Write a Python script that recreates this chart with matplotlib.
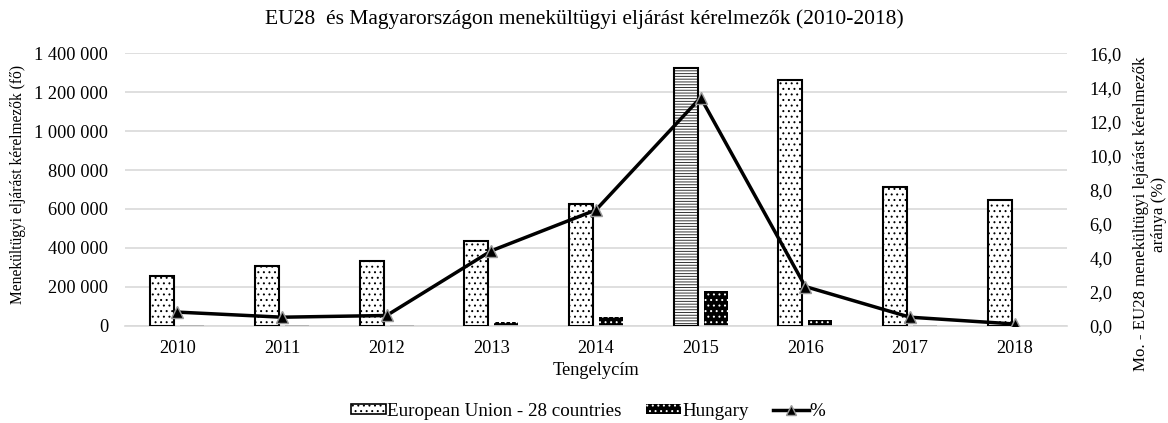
import numpy as np
import matplotlib
matplotlib.use("Agg")
import matplotlib.pyplot as plt
from matplotlib.patches import Patch
from matplotlib.lines import Line2D
from matplotlib.ticker import FuncFormatter

plt.rcParams['font.family'] = ['Liberation Serif', 'DejaVu Serif']
plt.rcParams['hatch.linewidth'] = 0.7

# Data
years = ['2010', '2011', '2012', '2013', '2014', '2015', '2016', '2017', '2018']
eu28 = [258000, 309000, 334000, 433000, 628000, 1322000, 1261000, 712000, 645000]
hungary = [2100, 1700, 2200, 18000, 43000, 176000, 29000, 3400, 700]
pct = [0.8, 0.5, 0.6, 4.4, 6.8, 13.4, 2.3, 0.5, 0.1]
highlight = '2015'

fs = 13.2

fig = plt.figure(figsize=(11.68, 4.23), dpi=100)
ax = fig.add_axes([0.107, 0.23, 0.8065, 0.644])
ax2 = ax.twinx()

x = np.arange(len(years))
w = 0.23
off = 0.143

# EU28 bars (dotted), 2015 has horizontal lines
for i, v in enumerate(eu28):
    if years[i] == highlight:
        ax.bar(x[i] - off, v, w, facecolor='white', edgecolor='#333333',
               hatch='------', linewidth=0, zorder=2)
    else:
        ax.bar(x[i] - off, v, w, facecolor='white', edgecolor='black',
               hatch='...', linewidth=0, zorder=2)
    ax.bar(x[i] - off, v, w, fill=False, edgecolor='black', linewidth=1.5, zorder=3)

# Hungary bars (dark with white dots)
ax.bar(x + off, hungary, w, facecolor='black', edgecolor='white',
       hatch='...', linewidth=0, zorder=2)

ax.set_xlim(-0.5, len(years) - 0.5)
ax.set_ylim(0, 1400000)
ax.set_yticks(np.arange(0, 1400001, 200000))
ax.yaxis.set_major_formatter(FuncFormatter(lambda v, p: f'{int(v):,}'.replace(',', ' ')))
ax.set_xticks(x)
ax.set_xticklabels(years)
ax.grid(axis='y', color='#d9d9d9', linewidth=1.2, zorder=0)
ax.set_axisbelow(True)
for s in ['top', 'right', 'left']:
    ax.spines[s].set_visible(False)
    ax2.spines[s].set_visible(False)
ax.spines['bottom'].set_color('#d9d9d9')
ax.spines['bottom'].set_linewidth(1.2)
ax2.spines['bottom'].set_visible(False)
ax.tick_params(axis='y', length=0, labelsize=fs, pad=12)
ax.tick_params(axis='x', length=0, labelsize=fs, pad=10)

# Percentage line
ax2.plot(x, pct, color='black', linewidth=2.5, marker='^', markersize=9,
         markerfacecolor='black', markeredgecolor='#999999', markeredgewidth=1, zorder=5)
ax2.set_ylim(0, 16)
ax2.set_yticks(np.arange(0, 16.1, 2))
ax2.yaxis.set_major_formatter(FuncFormatter(lambda v, p: f'{v:.1f}'.replace('.', ',')))
ax2.tick_params(axis='y', length=0, labelsize=fs, pad=16)

# Axis titles
fig.text(18 / 1168, 1 - 184 / 423, 'Menekültügyi eljárást kérelmezők (fő)',
         fontsize=11.2, rotation=90, ha='center', va='center')
fig.text(1150 / 1168, 1 - 214 / 423,
         'Mo. - EU28 menekültügyi lejárást kérelmezők\naránya (%)',
         fontsize=12.2, rotation=90, ha='center', va='center',
         multialignment='center', linespacing=1.1)
ax.set_xlabel('Tengelycím', fontsize=fs, labelpad=4)

fig.suptitle('EU28  és Magyarországon menekültügyi eljárást kérelmezők (2010-2018)',
             fontsize=15.5, x=0.5, y=0.978)

handles = [
    Patch(facecolor='white', edgecolor='black', hatch='...', linewidth=1.2),
    Patch(facecolor='black', edgecolor='white', hatch='...', linewidth=0),
    Line2D([0], [0], color='black', linewidth=2.5, marker='^', markersize=7,
           markerfacecolor='black', markeredgecolor='#999999'),
]
fig.legend(handles, ['European Union - 28 countries', 'Hungary', '%'],
           loc='center', bbox_to_anchor=(588 / 1168, 1 - 411 / 423), ncol=3,
           frameon=False, fontsize=13.7, handlelength=1.85, handleheight=0.45,
           handletextpad=0.05, columnspacing=1.3, borderaxespad=0)

fig.savefig('out.png', dpi=100)
